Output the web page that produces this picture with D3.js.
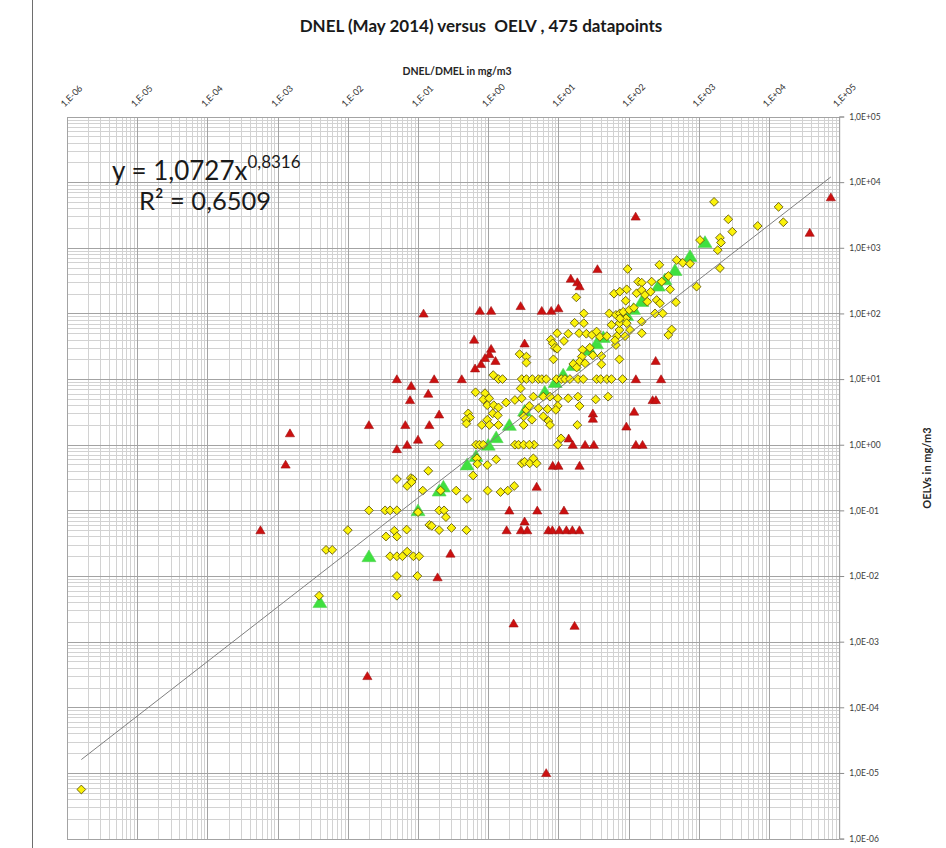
<!DOCTYPE html>
<html>
<head>
<meta charset="utf-8">
<script src="https://cdn.jsdelivr.net/npm/d3@7"></script>
<style>
  html, body { margin: 0; padding: 0; background: #ffffff; }
  svg { display: block; }
  text { font-family: Lato, "Open Sans", "DejaVu Sans", sans-serif; }
</style>
</head>
<body>
<svg id="chart" width="946" height="848"></svg>
<script>
// ---------------- DATA ----------------
const chartTitle = "DNEL (May 2014) versus  OELV , 475 datapoints";
const xAxisTitle = "DNEL/DMEL in mg/m3";
const yAxisTitle = "OELVs in mg/m3";
const equationMain = "y = 1,0727x";
const equationExp = "0,8316";
const rSquared = "R² = 0,6509";

const xTickValues = [1e-6,1e-5,1e-4,1e-3,1e-2,1e-1,1e0,1e1,1e2,1e3,1e4,1e5];
const xTickLabels = ["1,E-06","1,E-05","1,E-04","1,E-03","1,E-02","1,E-01","1,E+00","1,E+01","1,E+02","1,E+03","1,E+04","1,E+05"];
const yTickValues = [1e-6,1e-5,1e-4,1e-3,1e-2,1e-1,1e0,1e1,1e2,1e3,1e4,1e5];
const yTickLabels = ["1,0E-06","1,0E-05","1,0E-04","1,0E-03","1,0E-02","1,0E-01","1,0E+00","1,0E+01","1,0E+02","1,0E+03","1,0E+04","1,0E+05"];

// power trendline endpoints (DNEL, OELV)
const trendX = [1.6e-6, 7.6e4];
const trendY = [1.6e-5, 1.2e4];

// yellow diamonds: [DNEL, OELV]
const yellowPoints = [
 [1.6e-6,5.6e-6],[0.0039,0.005],[0.0049,0.025],[0.006,0.025],[0.01,0.05],[0.02,0.1],
 [0.66,6.3],[0.9,6.1],[0.85,4.9],[1.03,5.1],[0.97,4],[1.2,4],[1.4,3.7],[1.8,4.4],[2.4,4.8],[3,5.1],[2.9,7.2],
 [0.52,3],[0.55,2.6],[0.48,2.4],[0.49,2.1],[0.81,2],[0.97,2.4],[1.04,2],[1.16,3],[1.4,2],[1.37,2.8],[3.2,2.7],[3.2,2],[3.5,3.4],
 [0.2,1],[0.67,1],[0.75,1],[0.85,1],[2.4,1],[2.7,1],[3.2,1],
 [3,0.52],[3.3,0.55],[0.69,0.62],[0.7,0.51],[0.97,0.49],[1.3,0.6],[0.61,0.34],[0.14,0.4],
 [0.05,0.3],[0.079,0.31],[0.084,0.3],[0.07,0.235],[0.117,0.2],[0.21,0.2],[0.35,0.2],[0.5,0.15],[0.98,0.2],[1.5,0.19],[1.9,0.2],[2.35,0.235],
 [0.034,0.1],[0.04,0.1],[0.05,0.1],[0.1,0.094],[0.2,0.1],[0.235,0.1],[0.25,0.079],[0.145,0.06],[0.157,0.058],[0.069,0.051],[0.046,0.049],[0.05,0.04],[0.035,0.04],[0.2,0.05],[0.3,0.054],[0.49,0.05],
 [0.04,0.02],[0.05,0.02],[0.06,0.02],[0.07,0.0235],[0.086,0.02],[0.104,0.02],[0.05,0.01],[0.098,0.01],[0.05,0.005],[0.081,0.27],
 [1.18,11.5],[1.4,10],[1.6,10],[3,10],[3.5,10],[4.25,10],[5.2,10],[5.8,10],[6.7,10],[9.4,10],[11,10],[12.4,10],[14.6,10],[19,10],[22.6,10],[35,10],[40,10],[49,10],[57,10],[82,10],
 [4.4,5.4],[6.1,5.4],[7.6,5.4],[9.8,5.1],[13.8,5.1],[19,5.4],[34,4.9],[51,5.4],[20,3.9],[9.8,3.9],[3.85,3.9],[5.2,3.6],[7,3.5],[9.2,3.4],[4.2,2.4],[6.1,2.7],[7.2,2.3],[7.6,2],[18.6,2],[10.9,1.25],[9.8,1],[4.5,1],[3.85,1],[3.9,0.52],[4.9,0.52],[4.4,0.62],
 [97,475],[18,176],[62,200],[75,215],[94,233],[130,203],[91,156],[137,305],[23,100],[17,72],[23,71],[9.6,50],[13.8,49],[19.7,50],[25,49],[30,47],[35,53],[39,44],[49,45],[7.8,40],[8.3,35],[8.9,30],[9.6,29],[12,38],[22,28],[28,30],[21.5,22],[31,23],[41,22.5],[66,33],[68,45],[74,56],[89,45],[105,56],[53,100],[57,67],[66,95],[75,100],[84,106],[102,113],[119,122],[92,84],[74,71],[94,71],[8.5,20],[20,18.4],[24,17.4],[16.3,17],[18.2,15],[41,16.8],[74,20],[2.8,24],[3.5,22],[3.5,17.8],[75,84],[64,39],
 [1650,5000],[13700,4200],[16000,2450],[6900,2150],[2630,2720],[3000,1760],[2000,1420],[2070,1200],[1860,920],[1040,1310],[2000,490],[930,256],[484,650],[590,590],[750,570],[274,550],[473,148],[390,233],[368,372],[296,305],[213,305],[154,294],[154,227],[171,191],[206,214],[251,160],[280,143],[238,100],[306,100],[154,75],[154,50],[368,47],[411,57],[185,151]
];

// red triangles: [DNEL, OELV]
const redPoints = [
 [36,475],[15,340],[18.6,300],[20,260],[0.12,100],[0.76,110],[1.1,110],[2.9,130],[5.8,110],[7.9,110],[10,120],
 [0.63,40],[3.3,35],[1.1,29],[1.04,24],[0.9,21],[1.27,19],[0.79,17],[0.65,14.6],[0.05,10],[0.17,10],[0.42,10],
 [0.08,7.9],[0.14,6],[0.077,4.8],[0.2,2.9],[0.02,2],[0.066,2],[0.145,2],[0.1,1.2],[0.05,0.86],[0.07,1],
 [127,10],[31,3],[31,2.5],[120,3.2],[93,1.9],[14,1.25],[16,1],[24,1],[32,1],[127,1],[158,1],
 [8.3,0.48],[10,0.48],[20,0.48],[4.9,0.23],[2,0.1],[5,0.1],[12,0.1],[3.3,0.068],
 [1.83,0.05],[2.93,0.05],[3.6,0.05],[7.2,0.05],[8.2,0.05],[10.3,0.05],[13,0.05],[15.8,0.05],[19.9,0.05],
 [0.29,0.022],[0.19,0.0096],[2.3,0.0019],[17,0.00175],[0.019,0.0003],[6.7,1e-5],
 [76000,5900],[38000,1700],[126,3000],[243,19],[290,10],[220,4.8],[245,4.8],
 [5.7e-4,0.05],[1.3e-3,0.5],[1.5e-3,1.5]
];

// green triangles (DNEL equal to OELV): [DNEL, OELV]
const greenPoints = [
 [0.004,0.004],[0.02,0.02],[0.1,0.1],[0.2,0.2],[0.23,0.23],[0.5,0.5],[0.67,0.67],[1,1],[1.3,1.3],[2,2],
 [3.3,3.3],[6.4,6.4],[9,9],[11.7,11.7],[16.3,16.3],[28,28],[35,35],[43.6,43.6],[94,94],[117,117],
 [154,154],[265,265],[330,330],[458,458],[750,750],[1225,1225]
];

// ---------------- DRAWING ----------------
const svg = d3.select("#chart");
const W = 946, H = 848;
const plot = {left: 67, right: 839.2, top: 116.5, bottom: 838.6};

svg.append("rect").attr("width", W).attr("height", H).attr("fill", "#ffffff");

// page border line on the left
svg.append("line").attr("x1", 32.5).attr("x2", 32.5).attr("y1", 0).attr("y2", H)
  .attr("stroke", "#6e6e6e").attr("stroke-width", 1);

const x = d3.scaleLog().domain([1e-6, 1e5]).range([plot.left, plot.right]);
const y = d3.scaleLog().domain([1e-6, 1e5]).range([plot.bottom, plot.top]);

// minor grid values
const minorVals = [];
for (let k = -6; k < 5; k++) {
  for (let m = 2; m <= 9; m++) minorVals.push(m * Math.pow(10, k));
}

const grid = svg.append("g").attr("shape-rendering", "crispEdges");
grid.selectAll("line.vminor").data(minorVals).join("line")
  .attr("x1", d => Math.round(x(d)) + 0.5).attr("x2", d => Math.round(x(d)) + 0.5)
  .attr("y1", plot.top).attr("y2", plot.bottom)
  .attr("stroke", "#d2d2d2").attr("stroke-width", 1);
grid.selectAll("line.hminor").data(minorVals).join("line")
  .attr("y1", d => Math.round(y(d)) + 0.5).attr("y2", d => Math.round(y(d)) + 0.5)
  .attr("x1", plot.left).attr("x2", plot.right)
  .attr("stroke", "#d2d2d2").attr("stroke-width", 1);
grid.selectAll("line.vmajor").data(xTickValues).join("line")
  .attr("x1", d => Math.round(x(d)) + 0.5).attr("x2", d => Math.round(x(d)) + 0.5)
  .attr("y1", plot.top).attr("y2", plot.bottom)
  .attr("stroke", "#a3a3a3").attr("stroke-width", 1);
grid.selectAll("line.hmajor").data(yTickValues).join("line")
  .attr("y1", d => Math.round(y(d)) + 0.5).attr("y2", d => Math.round(y(d)) + 0.5)
  .attr("x1", plot.left).attr("x2", plot.right)
  .attr("stroke", "#a3a3a3").attr("stroke-width", 1);

// right axis
const yAxis = d3.axisRight(y).tickValues(yTickValues)
  .tickFormat((d, i) => yTickLabels[i]).tickSize(5).tickPadding(5);
const gy = svg.append("g").attr("transform", `translate(${plot.right},0)`).call(yAxis);
gy.select(".domain").attr("stroke", "#a3a3a3");
gy.selectAll(".tick line").attr("stroke", "#8c8c8c");
gy.selectAll(".tick text").attr("font-size", 8.5).attr("fill", "#3a3a3a")
  .attr("font-family", "Lato, 'Open Sans', sans-serif");

// top axis labels (rotated)
const xAxis = d3.axisTop(x).tickValues(xTickValues)
  .tickFormat((d, i) => xTickLabels[i]).tickSize(0).tickPadding(0);
const gx = svg.append("g").attr("transform", `translate(0,${plot.top})`).call(xAxis);
gx.select(".domain").remove();
gx.selectAll(".tick text")
  .attr("font-size", 9).attr("fill", "#333333")
  .attr("font-family", "Lato, 'Open Sans', sans-serif")
  .attr("text-anchor", "start")
  .attr("dy", 0)
  .attr("transform", "translate(-3,-9) rotate(-45)");

// titles
svg.append("text").attr("x", 481).attr("y", 32).attr("text-anchor", "middle")
  .attr("font-size", 17).attr("font-weight", "bold").attr("fill", "#1a1a1a")
  .style("white-space", "pre").text(chartTitle);
svg.append("text").attr("x", 457).attr("y", 75).attr("text-anchor", "middle")
  .attr("font-size", 10.5).attr("font-weight", "bold").attr("fill", "#262626")
  .text(xAxisTitle);
svg.append("text").attr("transform", "translate(931,468) rotate(-90)").attr("text-anchor", "middle")
  .attr("font-size", 11).attr("font-weight", "bold").attr("fill", "#262626")
  .text(yAxisTitle);

// markers
const diamond = "M0,-4.4L4.4,0L0,4.4L-4.4,0Z";
const redTri = "M0,-4.3L4.6,3.6L-4.6,3.6Z";
const greenTri = "M0,-6.3L7,5.4L-7,5.4Z";

svg.append("g").selectAll("path").data(greenPoints).join("path")
  .attr("d", greenTri)
  .attr("transform", d => `translate(${x(d[0])},${y(d[1])})`)
  .attr("fill", "#3fe03f").attr("stroke", "#5ad45a").attr("stroke-width", 0.6);

svg.append("g").selectAll("path").data(yellowPoints).join("path")
  .attr("d", diamond)
  .attr("transform", d => `translate(${x(d[0])},${y(d[1])})`)
  .attr("fill", "#fbf20a").attr("stroke", "#62580c").attr("stroke-width", 0.9);

svg.append("g").selectAll("path").data(redPoints).join("path")
  .attr("d", redTri)
  .attr("transform", d => `translate(${x(d[0])},${y(d[1])})`)
  .attr("fill", "#cc1010").attr("stroke", "#a01010").attr("stroke-width", 0.6);

// trendline
svg.append("line")
  .attr("x1", x(trendX[0])).attr("y1", y(trendY[0]))
  .attr("x2", x(trendX[1])).attr("y2", y(trendY[1]))
  .attr("stroke", "#7f7f7f").attr("stroke-width", 1);

// equation
const eq = svg.append("text").attr("x", 112).attr("y", 180).attr("font-size", 26).attr("fill", "#1a1a1a");
eq.append("tspan").text(equationMain);
eq.append("tspan").attr("font-size", 17).attr("dy", -12).text(equationExp);
svg.append("text").attr("x", 139).attr("y", 210).attr("font-size", 25.5).attr("fill", "#1a1a1a")
  .text(rSquared);
</script>
</body>
</html>
